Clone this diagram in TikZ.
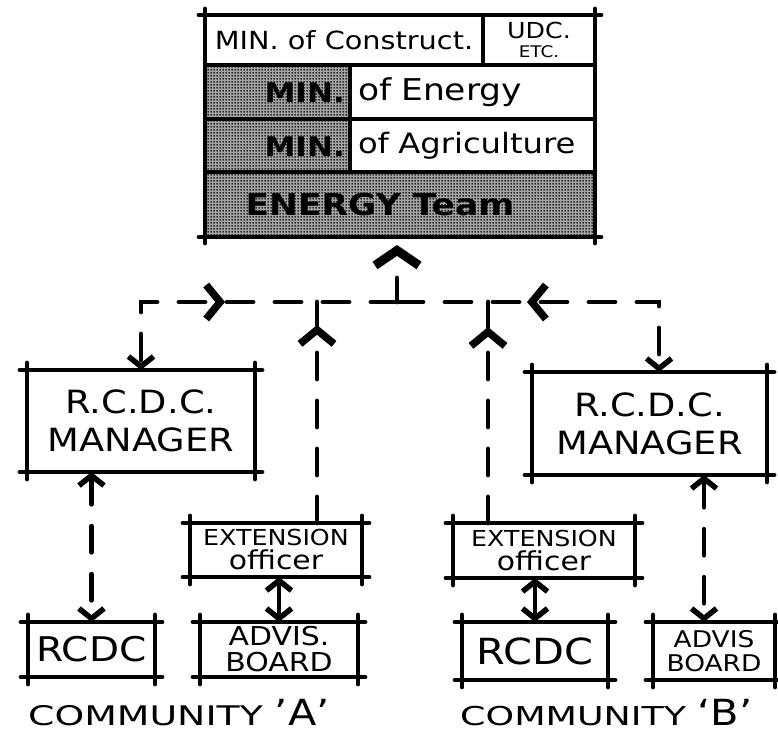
\documentclass[tikz,border=0pt]{standalone}
\usepackage{fontspec}
\setmainfont{DejaVu Sans}[FakeStretch=1.15]
\newfontfamily\widefont{DejaVu Sans}[FakeStretch=1.4]
\usetikzlibrary{arrows.meta,decorations.markings,patterns}

% halftone screen used for the shaded cells
\pgfdeclarepatternformonly{screendots}{\pgfqpoint{0pt}{0pt}}{\pgfqpoint{3pt}{3pt}}{\pgfqpoint{3pt}{3pt}}{%
  \pgfpathcircle{\pgfqpoint{1.5pt}{1.5pt}}{1.2pt}\pgfusepath{fill}}

% box outline whose sides run past the corners, as in a hand sketch
\newcommand\handframe[2][7pt]{%
  \draw[frameline] ([xshift=-#1]#2.north west) -- ([xshift=#1]#2.north east);
  \draw[frameline] ([xshift=-#1]#2.south west) -- ([xshift=#1]#2.south east);
  \draw[frameline] ([yshift=#1]#2.north west) -- ([yshift=-#1]#2.south west);
  \draw[frameline] ([yshift=#1]#2.north east) -- ([yshift=-#1]#2.south east);}

\tikzset{
  frameline/.style={line width=4.8pt, line cap=round},
  cell/.style={draw, line width=4.2pt, fill=white, inner sep=0pt, outer sep=0pt, anchor=north west},
  boxnode/.style={fill=white, inner sep=0pt, outer sep=0pt, anchor=north west, align=center},
  hatchtext/.style={inner sep=0pt, font=\bfseries\fontsize{27}{30}\selectfont},
  dashline/.style={line width=4.8pt, line cap=round, dash pattern=on 26pt off 22pt},
  solidline/.style={line width=4.8pt, line cap=round},
  chev/.tip={Straight Barb[length=10pt,width=25pt,line width=5.5pt]},
  bigchev/.tip={Straight Barb[length=14pt,width=34pt,line width=7.5pt]},
  topchev/.tip={Straight Barb[length=15pt,width=44pt,line width=9pt]},
}

\begin{document}
\begin{tikzpicture}[x=1pt,y=-1pt]
\useasboundingbox (0,0) rectangle (778,734);

% ---- ministries block ----
\node[inner sep=0pt, outer sep=0pt, anchor=north west, fill=black!35,
      postaction={pattern=screendots},
      minimum width=390pt, minimum height=222pt] (top) at (205,15) {};
\node[cell, minimum width=278pt, minimum height=50pt, font=\fontsize{25}{28}\selectfont]
  (construct) at (205,15) {MIN. of Construct.};
\node[cell, minimum width=112pt, minimum height=50pt, align=center, font=\fontsize{22}{19}\selectfont]
  (udc) at (483,15) {UDC.\\{\fontsize{16}{16}\selectfont ETC.}};
\node[cell, minimum height=54pt, text width=229pt, inner xsep=8pt, align=left, font=\fontsize{30}{32}\selectfont]
  (energy) at (350,65) {of Energy};
\node[cell, minimum height=53pt, text width=229pt, inner xsep=8pt, align=left, font=\fontsize{28}{32}\selectfont]
  (agri) at (350,119) {\mbox{of Agriculture}};
\draw[line width=4.2pt] (agri.north west) -- (agri.north west -| top.west);
\draw[line width=4.2pt] (agri.south east) -- (agri.south east -| top.west);
\node[hatchtext, anchor=east] (minE) at (345,93) {MIN.};
\node[hatchtext, anchor=east] (minA) at (345,147) {MIN.};
\node[hatchtext, font=\bfseries\fontsize{30}{32}\selectfont] (team) at (380,205) {ENERGY Team};
\handframe[6pt]{top}

% ---- managers ----
\node[boxnode, minimum width=228pt, minimum height=102pt, font=\fontsize{32}{38}\selectfont]
  (mgrA) at (27,370) {R.C.D.C.\\MANAGER};
\node[boxnode, minimum width=235pt, minimum height=103pt, font=\fontsize{32}{38}\selectfont]
  (mgrB) at (532,372) {R.C.D.C.\\MANAGER};
\handframe{mgrA}
\handframe{mgrB}

% ---- community A ----
\node[boxnode, minimum width=172pt, minimum height=54pt, font=\fontsize{22}{24}\selectfont]
  (extA) at (190,523) {EXTENSION\\{\fontsize{26}{24}\selectfont officer}};
\node[boxnode, minimum width=127pt, minimum height=55pt, font=\fontsize{34}{36}\selectfont]
  (rcdcA) at (28,622) {RCDC};
\node[boxnode, minimum width=158pt, minimum height=55pt, font=\fontsize{26}{26}\selectfont]
  (advA) at (200,622) {ADVIS.\\BOARD};
\handframe{extA}
\handframe{rcdcA}
\handframe{advA}
\node[anchor=base west, inner sep=0pt, font=\widefont\fontsize{27}{30}\selectfont]
  (commA) at (28,725) {COMMUNITY {\normalfont\fontsize{36}{36}\selectfont ’A’}};

% ---- community B ----
\node[boxnode, minimum width=182pt, minimum height=55pt, font=\fontsize{22}{24}\selectfont]
  (extB) at (453,523) {EXTENSION\\{\fontsize{26}{24}\selectfont officer}};
\node[boxnode, minimum width=146pt, minimum height=58pt, font=\fontsize{36}{38}\selectfont]
  (rcdcB) at (462,622) {RCDC};
\node[boxnode, minimum width=122pt, minimum height=58pt, font=\fontsize{23}{24}\selectfont]
  (advB) at (653,622) {ADVIS\\BOARD};
\handframe{extB}
\handframe{rcdcB}
\handframe{advB}
\node[anchor=base west, inner sep=0pt, font=\widefont\fontsize{26}{30}\selectfont]
  (commB) at (460,725) {COMMUNITY {\normalfont\fontsize{36}{36}\selectfont ‘B’}};

% ---- junctions on the dashed link line ----
\coordinate (hub) at (397,302);
\coordinate (cornerA) at (141,302);
\coordinate (cornerB) at (659,302);
\coordinate (hubA) at (317,302);
\coordinate (hubB) at (488,302);
\coordinate (tipA) at (317,325);
\coordinate (tipB) at (488,327);

% link up to the ministries
\draw[solidline, dash pattern=on 24pt off 40pt, -{topchev}, shorten >=8pt] (hub) -- (hub |- top.south);

% links to the two managers
\draw[dashline, -{chev},
  postaction={decorate, decoration={markings, mark=at position 172pt with {\arrowreversed{bigchev}}}}]
  (hub) -- (cornerA) -- (cornerA |- mgrA.north);
\draw[dashline, -{chev},
  postaction={decorate, decoration={markings, mark=at position 130pt with {\arrowreversed{bigchev}}}}]
  (hub) -- (cornerB) -- (cornerB |- mgrB.north);

% extension officers up to the link line
\draw[dashline, -{bigchev}] (tipA |- extA.north) -- (tipA);
\draw[solidline] (tipA) -- (hubA);
\draw[dashline, -{bigchev}] (tipB |- extB.north) -- (tipB);
\draw[solidline] (tipB) -- (hubB);

% managers to local bodies
\draw[dashline, {chev}-{chev}] (rcdcA.north |- mgrA.south) -- (rcdcA.north);
\coordinate (advBtop) at ([xshift=-10pt]advB.north);
\draw[dashline, {chev}-{chev}] (advBtop |- mgrB.south) -- (advBtop);

% extension officers to local bodies
\draw[solidline, {chev}-{chev}] (advA.north |- extA.south) -- (advA.north);
\draw[solidline, {chev}-{chev}] (rcdcB.north |- extB.south) -- (rcdcB.north);
\end{tikzpicture}
\end{document}
